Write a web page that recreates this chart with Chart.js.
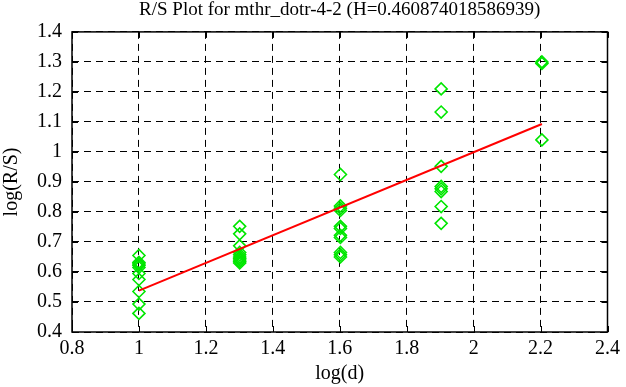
<!DOCTYPE html>
<html>
<head>
<meta charset="utf-8">
<script src="https://cdn.jsdelivr.net/npm/chart.js@4.4.1/dist/chart.umd.min.js"></script>
<style>
    html, body { margin: 0; padding: 0; background: #ffffff; }
    #wrap { width: 626px; height: 387px; }
</style>
</head>
<body>
<div id="wrap"><canvas id="chart" width="626" height="387"></canvas></div>
<script>
// log(d) for d = 10, 20, 40, 80, 160
const logD = [1.0, 1.301, 1.602, 1.903, 2.204]
// log(R/S) values, one list per log(d)
const rsAt10 = [0.655, 0.632, 0.627, 0.622, 0.615, 0.595, 0.575, 0.535, 0.493, 0.462]
const rsAt20 = [0.752, 0.727, 0.687, 0.665, 0.657, 0.650, 0.645, 0.640, 0.635, 0.630]
const rsAt40 = [0.925, 0.820, 0.812, 0.805, 0.752, 0.745, 0.722, 0.715, 0.665, 0.657, 0.650]
const rsAt80 = [1.210, 1.133, 0.952, 0.885, 0.877, 0.868, 0.818, 0.762]
const rsAt160 = [1.300, 1.295, 1.040]
const allRs = [rsAt10, rsAt20, rsAt40, rsAt80, rsAt160]
// fitted line, slope H = 0.460874018586939
const fitX = [1.0, 2.204]
const fitY = [0.538, 1.093]

const xTicks = [0.8, 1.0, 1.2, 1.4, 1.6, 1.8, 2.0, 2.2, 2.4]
const yTicks = [0.4, 0.5, 0.6, 0.7, 0.8, 0.9, 1.0, 1.1, 1.2, 1.3, 1.4]

const points = []
allRs.forEach((list, i) => {
    list.forEach(v => points.push({ x: logD[i], y: v }))
})

const serif = "'Liberation Serif', 'DejaVu Serif', serif"
// gnuplot style labels: 1 and 2 instead of 1.0 and 2.0
const shortLabel = (value) => String(+value.toFixed(1))

// solid frame + inward tick marks on all four sides
const frameTicks = {
    id: 'frameTicks',
    afterDraw: (chart) => {
        const {ctx, chartArea: a, scales: {x, y}} = chart
        ctx.save()
        ctx.strokeStyle = '#000'
        ctx.lineWidth = 1
        ctx.setLineDash([])
        ctx.beginPath()
        xTicks.forEach(t => {
            const px = Math.round(x.getPixelForValue(t)) + 0.5
            ctx.moveTo(px, a.bottom); ctx.lineTo(px, a.bottom - 6)
            ctx.moveTo(px, a.top); ctx.lineTo(px, a.top + 6)
        })
        yTicks.forEach(t => {
            const py = Math.round(y.getPixelForValue(t)) + 0.5
            ctx.moveTo(a.left, py); ctx.lineTo(a.left + 6, py)
            ctx.moveTo(a.right, py); ctx.lineTo(a.right - 6, py)
        })
        ctx.stroke()
        ctx.lineWidth = 1.5
        ctx.strokeRect(a.left, a.top, a.right - a.left, a.bottom - a.top)
        ctx.restore()
    }
}

new Chart(document.getElementById('chart'), {
    type: 'scatter',
    data: {
        datasets: [
            {
                label: 'R/S',
                data: points,
                pointStyle: 'rectRot',
                pointRadius: 6,
                pointBorderWidth: 1.6,
                borderColor: '#00e600',
                backgroundColor: 'rgba(0,0,0,0)',
                order: 2
            },
            {
                label: 'fit',
                type: 'line',
                data: fitX.map((v, i) => ({ x: v, y: fitY[i] })),
                borderColor: '#ff0000',
                borderWidth: 2,
                pointRadius: 0,
                fill: false,
                order: 1
            }
        ]
    },
    options: {
        responsive: false,
        animation: false,
        layout: { padding: { top: 0, right: 15, left: 0, bottom: 0 } },
        plugins: {
            legend: { display: false },
            tooltip: { enabled: false },
            title: {
                display: true,
                fullSize: false,
                text: 'R/S Plot for mthr_dotr-4-2 (H=0.460874018586939)',
                color: '#000',
                font: { family: serif, size: 19, weight: 'normal', lineHeight: 1.1 },
                padding: { top: 0, bottom: 11 }
            }
        },
        scales: {
            x: {
                type: 'linear',
                min: 0.8,
                max: 2.4,
                afterFit: (scale) => { scale.height = 55 },
                afterBuildTicks: (scale) => { scale.ticks = xTicks.map(v => ({ value: v })) },
                grid: { color: '#000', lineWidth: 1, drawTicks: false },
                border: { display: false, dash: [7, 5] },
                ticks: { color: '#000', padding: 6, font: { family: serif, size: 20, lineHeight: 1.1 }, maxRotation: 0, callback: shortLabel },
                title: {
                    display: true,
                    text: 'log(d)',
                    color: '#000',
                    font: { family: serif, size: 20, lineHeight: 1.1 },
                    padding: { top: 0, bottom: 2 }
                }
            },
            y: {
                type: 'linear',
                min: 0.4,
                max: 1.4,
                afterFit: (scale) => { scale.width = 72 },
                afterBuildTicks: (scale) => { scale.ticks = yTicks.map(v => ({ value: v })) },
                grid: { color: '#000', lineWidth: 1, drawTicks: false },
                border: { display: false, dash: [7, 5] },
                ticks: { color: '#000', padding: 10, font: { family: serif, size: 20 }, callback: shortLabel },
                title: {
                    display: true,
                    text: 'log(R/S)',
                    color: '#000',
                    font: { family: serif, size: 20, lineHeight: 1.1 },
                    padding: { top: 1, bottom: 0 }
                }
            }
        }
    },
    plugins: [frameTicks]
})
</script>
</body>
</html>
